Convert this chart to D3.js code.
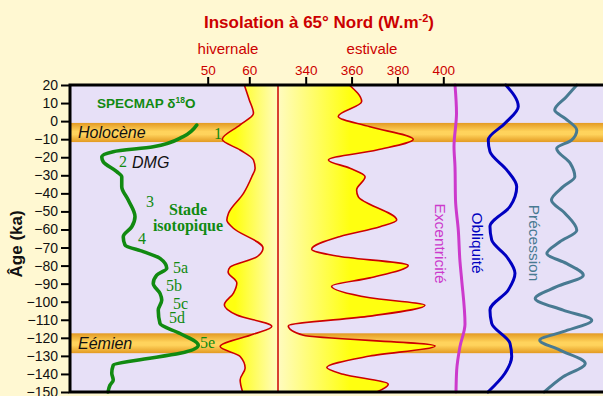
<!DOCTYPE html>
<html>
<head>
<meta charset="utf-8">
<script src="https://cdnjs.cloudflare.com/ajax/libs/d3/7.8.5/d3.min.js"></script>
<style>
  body { margin: 0; background: #fff8d2; }
  svg { display: block; }
  .lbl { font-family: "Liberation Sans", Arial, sans-serif; }
  .serif { font-family: "Liberation Serif", "Times New Roman", serif; }
</style>
</head>
<body>
<div class="content"></div>
<script>
// ages in ka (negative = past)
var ageTicks = d3.range(20, -151, -10);
var winterTicks = [50, 60];
var summerTicks = [340, 360, 380, 400];

// insolation hivernale (W.m-2)
var winterAge = [20, 11.7, 4.3, -2.1, -10.1, -16, -21.5, -26.1, -30.8, -40, -51, -54.8, -59.2, -70.3, -75.2, -80.8, -83.5, -89.6, -95.2, -101.8, -107.4, -113.7, -117.9, -124.8, -130.3, -136.7, -143.3, -150];
var winterVal = [58.8, 60.0, 61.0, 57.8, 53.5, 57.8, 61.0, 61.4, 60.6, 58.6, 55.0, 54.6, 56.1, 63.3, 61.8, 55.4, 54.9, 57.0, 56.2, 54.0, 57.0, 65.4, 61.1, 53.0, 57.8, 59.0, 57.8, 58.4];

// insolation estivale (W.m-2)
var summerAge = [20, 10.8, 2.5, -3.1, -10.1, -16.0, -21.5, -26.1, -30.8, -38.1, -41.8, -54.8, -58.5, -63.9, -71.0, -74.7, -79.9, -86.8, -91.4, -97.8, -102.0, -108.0, -113.4, -118.6, -124.5, -130.1, -136.5, -140.2, -145.7, -150];
var summerVal = [359.0, 364.4, 354.2, 368.0, 386.9, 371.0, 349.9, 359.3, 365.9, 362.2, 362.9, 379.7, 372.4, 355.0, 342.6, 353.5, 384.7, 368.0, 351.3, 368.0, 392.0, 368.0, 332.4, 339.0, 396.4, 368.0, 349.2, 356.4, 376.0, 371.0];

// SPECMAP delta18O (normalise, positif = glaciaire)
var d18OAge = [-2.2, -8.6, -14.2, -16.9, -19.7, -22.5, -28.0, -30.8, -36.3, -43.7, -52.9, -58.5, -64.1, -68.6, -72.3, -76.0, -81.5, -85.3, -89.9, -95.4, -99.1, -104.7, -112.1, -117.6, -124.1, -128.6, -132.4, -135.1, -139.6, -143.3, -146.2, -150];
var d18OVal = [-1.87, -1.33, -0.13, 1.47, 1.93, 1.87, 1.33, 1.13, 1.13, 0.87, 0.60, 0.73, 1.07, 1.0, 0.27, -0.40, -0.67, -0.27, -0.13, -0.40, -0.47, -0.33, -0.40, -1.2, -1.93, -1.2, 0.53, 1.47, 1.53, 1.47, 1.6, 1.68];

// excentricite
var eccAge = [20, 4.3, -14.1, -25.3, -43.7, -60.4, -78.0, -88.0, -112.4, -124.8, -137.8, -150];
var eccVal = [0.025, 0.0265, 0.024, 0.025, 0.0255, 0.0283, 0.030, 0.0317, 0.035, 0.030, 0.0267, 0.026];

// obliquite (degres)
var oblAge = [20, 8.1, -1.2, -10.4, -16.9, -27.0, -36.3, -47.3, -58.4, -65.8, -75.1, -84.3, -93.5, -104.6, -112.0, -123.1, -130.4, -139.6, -150];
var oblVal = [23.45, 24.32, 23.39, 22.22, 22.34, 23.51, 24.21, 23.74, 22.34, 22.46, 23.51, 24.09, 23.62, 22.34, 22.46, 23.74, 23.86, 23.39, 22.2];

// precession (indice)
var precAge = [20, 13.5, 6.1, 1.5, -5.0, -10.5, -15.1, -23.4, -30.8, -36.3, -43.7, -51.1, -60.4, -66.8, -73.3, -78.8, -85.3, -91.7, -98.2, -104.7, -110.2, -116.6, -121.3, -126.8, -134.2, -141.6, -150];
var precVal = [0.022, 0.006, -0.012, 0.004, 0.022, 0.014, -0.009, 0.012, 0.019, 0.001, -0.017, 0.004, 0.022, -0.004, -0.024, 0.006, 0.032, -0.009, -0.042, 0.001, 0.045, 0.001, -0.035, -0.004, 0.035, 0.001, -0.028];

// periodes chaudes
var bandNames = ["Holocène", "Eémien"];
var bandTop = [-1, -117.5];
var bandBottom = [-11.6, -128.5];

// stades isotopiques
var isoLabels = ["1", "2", "3", "4", "5a", "5b", "5c", "5d", "5e"];
var isoAge = [-9.9, -25.6, -47.4, -68.2, -83.9, -93.9, -104.2, -111.9, -125.8];
var isoX = [-2.56, 1.24, 0.16, 0.48, -0.92, -0.64, -0.92, -0.76, -2.0];

var width = 603, height = 396;
var plot = {left: 70, top: 85, bottom: 392, right: 603};
var divider = 66.9; // en W.m-2 hivernal, trait rouge

var svg = d3.select(".content").append("svg")
    .attr("width", width)
    .attr("height", height);

var y = d3.scaleLinear().domain([20, -150]).range([plot.top, plot.bottom]);
var xWinter = d3.scaleLinear().domain([50, 60]).range([207.7, 249.3]);
var xSummer = d3.scaleLinear().domain([340, 400]).range([305.7, 443.3]);
var xD18O = d3.scaleLinear().domain([2, -2]).range([100, 200]);
var xEcc = d3.scaleLinear().domain([0, 0.05]).range([430, 480]);
var xObl = d3.scaleLinear().domain([22, 25]).range([485.1, 528]);
var xPrec = d3.scaleLinear().domain([-0.05, 0.05]).range([530, 595]);
var xDiv = xWinter(divider);

var defs = svg.append("defs");

var bandGrad = defs.append("linearGradient")
    .attr("id", "band").attr("x1", "0%").attr("y1", "0%").attr("x2", "0%").attr("y2", "100%");
bandGrad.append("stop").attr("offset", "0%").attr("stop-color", "#e39a22");
bandGrad.append("stop").attr("offset", "45%").attr("stop-color", "#ffd35c");
bandGrad.append("stop").attr("offset", "60%").attr("stop-color", "#ffd35c");
bandGrad.append("stop").attr("offset", "100%").attr("stop-color", "#e39a22");

var winterGrad = defs.append("linearGradient")
    .attr("id", "winterFill").attr("gradientUnits", "userSpaceOnUse")
    .attr("x1", 235).attr("y1", 0).attr("x2", xDiv).attr("y2", 0);
winterGrad.append("stop").attr("offset", "0%").attr("stop-color", "#ffff10");
winterGrad.append("stop").attr("offset", "100%").attr("stop-color", "#fffbc0");

var summerGrad = defs.append("linearGradient")
    .attr("id", "summerFill").attr("gradientUnits", "userSpaceOnUse")
    .attr("x1", xDiv).attr("y1", 0).attr("x2", 350).attr("y2", 0);
summerGrad.append("stop").attr("offset", "0%").attr("stop-color", "#fffbc0");
summerGrad.append("stop").attr("offset", "100%").attr("stop-color", "#ffff10");

// fond du graphique
svg.append("rect")
    .attr("x", plot.left).attr("y", plot.top)
    .attr("width", plot.right - plot.left).attr("height", plot.bottom - plot.top)
    .attr("fill", "#e7e0f7");

// bandes Holocene / Eemien
svg.selectAll(".band")
    .data(bandTop)
    .enter().append("rect")
    .attr("class", "band")
    .attr("x", plot.left)
    .attr("y", function(d) { return y(d); })
    .attr("width", plot.right - plot.left)
    .attr("height", function(d, i) { return y(bandBottom[i]) - y(d); })
    .attr("fill", "url(#band)");

var winter = winterAge.map(function(a, i) { return {a: a, v: winterVal[i]}; });
var summer = summerAge.map(function(a, i) { return {a: a, v: summerVal[i]}; });

var curve = d3.curveMonotoneY;

svg.append("path")
    .datum(winter)
    .attr("d", d3.area().curve(curve)
        .y(function(d) { return y(d.a); })
        .x0(function(d) { return xWinter(d.v); })
        .x1(xDiv))
    .attr("fill", "url(#winterFill)");

svg.append("path")
    .datum(summer)
    .attr("d", d3.area().curve(curve)
        .y(function(d) { return y(d.a); })
        .x0(xDiv)
        .x1(function(d) { return xSummer(d.v); }))
    .attr("fill", "url(#summerFill)");

svg.append("line")
    .attr("x1", xDiv).attr("x2", xDiv)
    .attr("y1", plot.top).attr("y2", plot.bottom)
    .attr("stroke", "#cc0000").attr("stroke-width", 1.5);

svg.append("path")
    .datum(winter)
    .attr("d", d3.line().curve(curve)
        .y(function(d) { return y(d.a); })
        .x(function(d) { return xWinter(d.v); }))
    .attr("fill", "none").attr("stroke", "#cc0000").attr("stroke-width", 1.6);

svg.append("path")
    .datum(summer)
    .attr("d", d3.line().curve(curve)
        .y(function(d) { return y(d.a); })
        .x(function(d) { return xSummer(d.v); }))
    .attr("fill", "none").attr("stroke", "#cc0000").attr("stroke-width", 1.6);

function drawSeries(ages, vals, xs, color, w) {
  svg.append("path")
      .datum(ages.map(function(a, i) { return {a: a, v: vals[i]}; }))
      .attr("d", d3.line().curve(curve)
          .y(function(d) { return y(d.a); })
          .x(function(d) { return xs(d.v); }))
      .attr("fill", "none")
      .attr("stroke", color)
      .attr("stroke-width", w)
      .attr("stroke-linejoin", "round")
      .attr("stroke-linecap", "round");
}

drawSeries(d18OAge, d18OVal, xD18O, "#118a11", 3.6);
drawSeries(eccAge, eccVal, xEcc, "#cc3acc", 3);
drawSeries(oblAge, oblVal, xObl, "#0000c0", 3);
drawSeries(precAge, precVal, xPrec, "#487a92", 3);

// textes dans le graphique
svg.append("text")
    .attr("class", "lbl")
    .attr("x", 97).attr("y", 108)
    .attr("fill", "#118a11")
    .attr("font-size", 13.5).attr("font-weight", "bold")
    .html('SPECMAP δ<tspan font-size="8.5" dy="-5">18</tspan><tspan dy="5">O</tspan>');

svg.selectAll(".bandName")
    .data(bandNames)
    .enter().append("text")
    .attr("class", "lbl")
    .attr("x", 78)
    .attr("y", function(d, i) { return (y(bandTop[i]) + y(bandBottom[i])) / 2 + 5.5; })
    .attr("font-size", 16).attr("font-style", "italic").attr("fill", "#111")
    .text(function(d) { return d; });

svg.append("text")
    .attr("class", "lbl")
    .attr("x", 132).attr("y", 168)
    .attr("font-size", 16).attr("font-style", "italic").attr("fill", "#111")
    .text("DMG");

svg.selectAll(".iso")
    .data(isoLabels)
    .enter().append("text")
    .attr("class", "serif")
    .attr("x", function(d, i) { return xD18O(isoX[i]); })
    .attr("y", function(d, i) { return y(isoAge[i]); })
    .attr("font-size", 16).attr("fill", "#118a11")
    .text(function(d) { return d; });

svg.append("text")
    .attr("class", "serif")
    .attr("x", 188).attr("y", 215)
    .attr("text-anchor", "middle")
    .attr("font-size", 16).attr("font-weight", "bold").attr("fill", "#118a11")
    .text("Stade");
svg.append("text")
    .attr("class", "serif")
    .attr("x", 188).attr("y", 231)
    .attr("text-anchor", "middle")
    .attr("font-size", 16).attr("font-weight", "bold").attr("fill", "#118a11")
    .text("isotopique");

function vlabel(txt, x, cy, color) {
  svg.append("text")
      .attr("class", "lbl")
      .attr("transform", "translate(" + x + "," + cy + ") rotate(90)")
      .attr("text-anchor", "middle")
      .attr("font-size", 15.5).attr("fill", color)
      .text(txt);
}
vlabel("Excentricité", 435, 243.5, "#cc3acc");
vlabel("Obliquité", 472, 243, "#0000c0");
vlabel("Précession", 528.5, 243, "#487a92");

// cadre
svg.append("path")
    .attr("d", "M" + plot.right + "," + plot.top + "H" + plot.left + "V" + plot.bottom + "H" + plot.right)
    .attr("fill", "none").attr("stroke", "#000").attr("stroke-width", 3);

// axes
var yAxis = svg.append("g")
    .attr("transform", "translate(" + (plot.left - 1) + ",0)")
    .call(d3.axisLeft(y).tickValues(ageTicks).tickSize(8).tickPadding(3));
yAxis.select(".domain").remove();
yAxis.selectAll(".tick line").attr("stroke", "#000").attr("stroke-width", 2);
yAxis.selectAll(".tick text")
    .attr("font-family", "Liberation Sans, Arial, sans-serif")
    .attr("font-size", 14).attr("fill", "#111");

function topAxis(scale, ticks) {
  var g = svg.append("g")
      .attr("transform", "translate(0," + (plot.top - 1) + ")")
      .call(d3.axisTop(scale).tickValues(ticks).tickSize(7).tickPadding(2));
  g.select(".domain").remove();
  g.selectAll(".tick line").attr("stroke", "#000").attr("stroke-width", 2);
  g.selectAll(".tick text")
      .attr("font-family", "Liberation Sans, Arial, sans-serif")
      .attr("font-size", 13.5).attr("fill", "#cc0000");
}
topAxis(xWinter, winterTicks);
topAxis(xSummer, summerTicks);

// titres
svg.append("text")
    .attr("class", "lbl")
    .attr("x", 319).attr("y", 28)
    .attr("text-anchor", "middle")
    .attr("font-size", 17).attr("font-weight", "bold").attr("fill", "#cc0000")
    .html('Insolation à 65° Nord (W.m<tspan font-size="11" dy="-6">-2</tspan><tspan dy="6">)</tspan>');

svg.append("text")
    .attr("class", "lbl")
    .attr("x", 228).attr("y", 54)
    .attr("text-anchor", "middle")
    .attr("font-size", 15).attr("fill", "#cc0000")
    .text("hivernale");

svg.append("text")
    .attr("class", "lbl")
    .attr("x", 372).attr("y", 54)
    .attr("text-anchor", "middle")
    .attr("font-size", 15).attr("fill", "#cc0000")
    .text("estivale");

svg.append("text")
    .attr("class", "lbl")
    .attr("transform", "translate(22," + y(-68) + ") rotate(-90)")
    .attr("text-anchor", "middle")
    .attr("font-size", 17).attr("font-weight", "bold").attr("fill", "#111")
    .text("Âge (ka)");
</script>
</body>
</html>
